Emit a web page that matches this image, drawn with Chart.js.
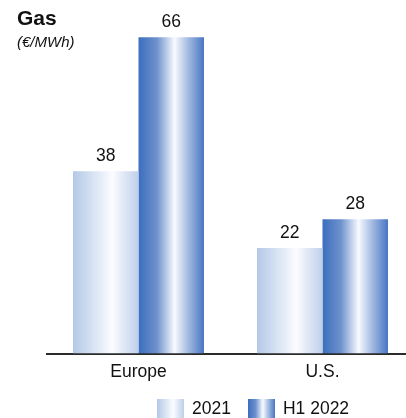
<!DOCTYPE html>
<html>
<head>
<meta charset="utf-8">
<script src="https://cdn.jsdelivr.net/npm/chart.js@4.4.1/dist/chart.umd.min.js"></script>
<style>
    html, body { margin: 0; padding: 0; background: #fff; overflow: hidden; }
    #wrap { position: relative; width: 406px; height: 418px; overflow: hidden; font-family: "Liberation Sans", Arial, sans-serif; color: #111; }
    #box { position: absolute; left: 0; top: 0; width: 416px; height: 418px; }
    #title { position: absolute; left: 17px; top: 6px; font-size: 21px; font-weight: bold; }
    #unit { position: absolute; left: 17px; top: 33px; font-size: 15px; font-style: italic; }
    #legend { position: absolute; left: 157px; top: 398px; display: flex; align-items: center; font-size: 17.5px; }
    #legend .item { display: flex; align-items: center; margin-right: 17px; }
    #legend .swatch { width: 27px; height: 20px; margin-right: 8px; }
</style>
</head>
<body>
<div id="wrap">
    <div id="box"><canvas id="gasChart"></canvas></div>
    <div id="title">Gas</div>
    <div id="unit">(€/MWh)</div>
    <div id="legend"></div>
</div>
<script>
// --- data ---
const regions = ["Europe", "U.S."];
const seriesNames = ["2021", "H1 2022"];
const prices2021 = [38, 22];
const pricesH12022 = [66, 28];

// gradient stops for each series: [position, colour]
const stops2021 = [[0, "#b3c8e6"], [0.6, "#fbfcff"], [1, "#bfcfea"]];
const stopsH12022 = [[0, "#3c6ebf"], [0.28, "#6d91cc"], [0.55, "#f8faff"], [0.75, "#a6bde2"], [1, "#4876c3"]];
const seriesStops = [stops2021, stopsH12022];

const CAT_PCT = 0.712;

// horizontal gradient spanning one bar, worked out from the category scale
function barGradient(context) {
    const chart = context.chart;
    const xScale = chart.scales.x;
    if (!chart.chartArea || !xScale) return seriesStops[context.datasetIndex][0][1];
    const catWidth = xScale.width / regions.length;
    const groupWidth = catWidth * CAT_PCT;
    const barWidth = groupWidth / seriesNames.length;
    const center = xScale.getPixelForValue(context.dataIndex);
    const left = center - groupWidth / 2 + context.datasetIndex * barWidth;
    const g = chart.ctx.createLinearGradient(left, 0, left + barWidth, 0);
    seriesStops[context.datasetIndex].forEach(s => g.addColorStop(s[0], s[1]));
    return g;
}

// value printed above every bar
const valueLabels = {
    id: "valueLabels",
    afterDatasetsDraw(chart) {
        const ctx = chart.ctx;
        ctx.save();
        ctx.font = "17.5px 'Liberation Sans', Arial, sans-serif";
        ctx.fillStyle = "#111";
        ctx.textAlign = "center";
        ctx.textBaseline = "bottom";
        chart.data.datasets.forEach((ds, i) => {
            chart.getDatasetMeta(i).data.forEach((bar, j) => {
                ctx.fillText(ds.data[j], bar.x, bar.y - 6);
            });
        });
        ctx.restore();
    }
};

const chart = new Chart(document.getElementById("gasChart"), {
    type: "bar",
    data: {
        labels: regions,
        datasets: [
            { label: seriesNames[0], data: prices2021, backgroundColor: barGradient },
            { label: seriesNames[1], data: pricesH12022, backgroundColor: barGradient }
        ]
    },
    options: {
        responsive: true,
        maintainAspectRatio: false,
        animation: false,
        events: [],
        categoryPercentage: CAT_PCT,
        barPercentage: 1,
        layout: { padding: { top: 18, left: 46.5, right: 1.5, bottom: 34.5 } },
        plugins: { legend: { display: false }, tooltip: { enabled: false } },
        scales: {
            x: {
                grid: { display: false, drawTicks: false },
                border: { display: true, color: "#2b2b2b", width: 2 },
                ticks: {
                    color: "#111",
                    padding: 8,
                    font: { family: "'Liberation Sans', Arial, sans-serif", size: 17.5 }
                },
                afterFit: scale => { scale.height = 30; }
            },
            y: { display: false, min: 0, max: 70 }
        }
    },
    plugins: [valueLabels]
});

// legend swatches reuse the bar gradients
const legend = document.getElementById("legend");
seriesNames.forEach((name, i) => {
    const item = document.createElement("div");
    item.className = "item";
    const sw = document.createElement("div");
    sw.className = "swatch";
    sw.style.background = "linear-gradient(to right, " +
        seriesStops[i].map(s => s[1] + " " + (s[0] * 100) + "%").join(", ") + ")";
    const txt = document.createElement("span");
    txt.textContent = name;
    item.appendChild(sw);
    item.appendChild(txt);
    legend.appendChild(item);
});
</script>
</body>
</html>
